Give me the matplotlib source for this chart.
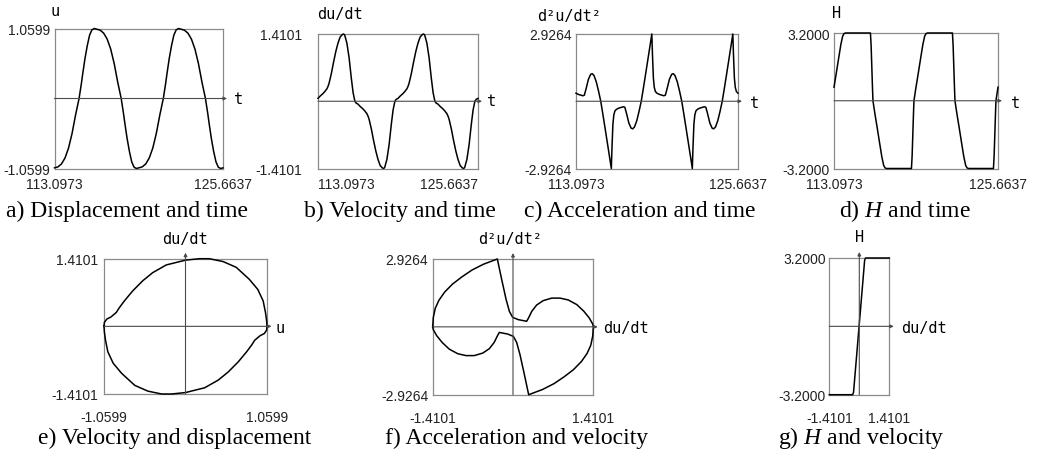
import numpy as np
import matplotlib
matplotlib.use('Agg')
import matplotlib.pyplot as plt

plt.rcParams['mathtext.fontset'] = 'custom'
plt.rcParams['mathtext.it'] = 'Liberation Serif:italic'
plt.rcParams['mathtext.rm'] = 'Liberation Serif'

# ---- data ----
t_start = 113.0973
t_end = 125.6637

# one period of each signal, phase in degrees from t_start (period = 2*pi)
phase_u = [0, 15, 30, 45, 60, 75, 90, 105, 115, 120, 130, 140, 150, 160, 170,
           180, 195, 210, 225, 240, 255, 270, 285, 295, 300, 310, 320, 330, 340, 350]
disp = [-1.05, -1.035, -0.99, -0.90, -0.75, -0.53, -0.25, 0.0, 0.23, 0.36, 0.60, 0.80, 0.96, 1.04, 1.0599,
        1.05, 1.035, 0.99, 0.90, 0.75, 0.53, 0.25, 0.0, -0.23, -0.36, -0.60, -0.80, -0.96, -1.04, -1.0599]

phase_v = [0, 10, 20, 30, 40, 45, 50, 60, 70, 80, 90, 100, 110, 115, 120, 130, 140, 150, 158, 166, 172,
           180, 190, 200, 210, 220, 225, 230, 240, 250, 260, 270, 280, 290, 295, 300, 310, 320, 330, 338, 346, 352]
vel = [0.06, 0.11, 0.15, 0.20, 0.26, 0.31, 0.38, 0.58, 0.82, 1.04, 1.22, 1.35, 1.40, 1.4101, 1.39, 1.22, 0.91, 0.48, 0.18, 0.0, -0.04,
       -0.06, -0.11, -0.15, -0.20, -0.26, -0.31, -0.38, -0.58, -0.82, -1.04, -1.22, -1.35, -1.40, -1.4101, -1.39, -1.22, -0.91, -0.48, -0.18, 0.0, 0.04]

phase_a = [0, 10, 20, 30, 37, 45, 55, 65, 72, 80, 90, 100, 110, 120, 130, 140, 150, 157, 160, 164, 168, 173,
           180, 190, 200, 210, 217, 225, 235, 245, 252, 260, 270, 280, 290, 300, 310, 320, 330, 337, 340, 344, 348, 353]
acc = [0.35, 0.30, 0.27, 0.24, 0.26, 0.55, 0.95, 1.17, 1.20, 1.12, 0.85, 0.45, 0.0, -0.60, -1.22, -1.85, -2.48, -2.9264, -2.0, -1.0, -0.6, -0.42,
       -0.35, -0.30, -0.27, -0.24, -0.26, -0.55, -0.95, -1.17, -1.20, -1.12, -0.85, -0.45, 0.0, 0.60, 1.22, 1.85, 2.48, 2.9264, 2.0, 1.0, 0.6, 0.42]

phase_h = [0, 10, 20, 30, 38, 44, 50, 160, 163, 166, 169, 171,
           180, 190, 200, 210, 218, 224, 230, 340, 343, 346, 349, 351]
hfield = [0.64, 1.30, 1.98, 2.65, 3.05, 3.17, 3.2, 3.2, 2.6, 1.6, 0.6, 0.0,
          -0.64, -1.30, -1.98, -2.65, -3.05, -3.17, -3.2, -3.2, -2.6, -1.6, -0.6, 0.0]

# phase portraits
disp_e = [-1.0599, -1.055, -1.025, -0.97, -0.90, -0.86, -0.795, -0.686, -0.556, -0.426, -0.25, 0.0, 0.18, 0.31,
          0.49, 0.66, 0.83, 0.94, 1.01, 1.04, 1.055, 1.0599,
          1.055, 1.025, 0.97, 0.90, 0.86, 0.795, 0.686, 0.556, 0.426, 0.25, 0.0, -0.18, -0.31,
          -0.49, -0.66, -0.83, -0.94, -1.01, -1.04, -1.055, -1.0599]
vel_e = [0.0, 0.08, 0.15, 0.195, 0.29, 0.39, 0.53, 0.74, 0.95, 1.12, 1.28, 1.38, 1.41, 1.41,
         1.35, 1.23, 0.98, 0.77, 0.53, 0.29, 0.12, 0.0,
         -0.08, -0.15, -0.195, -0.29, -0.39, -0.53, -0.74, -0.95, -1.12, -1.28, -1.38, -1.41, -1.41,
         -1.35, -1.23, -0.98, -0.77, -0.53, -0.29, -0.12, 0.0]

vel_f = [-1.4101, -1.40, -1.365, -1.30, -1.20, -1.06, -0.90, -0.72, -0.52, -0.275, -0.20, -0.123, -0.064, -0.006,
         0.094, 0.24, 0.27, 0.33, 0.415, 0.53, 0.68, 0.825, 0.97, 1.12, 1.245, 1.34, 1.40, 1.4101,
         1.40, 1.365, 1.30, 1.20, 1.06, 0.90, 0.72, 0.52, 0.275, 0.20, 0.123, 0.064, 0.006,
         -0.094, -0.24, -0.27, -0.33, -0.415, -0.53, -0.68, -0.825, -0.97, -1.12, -1.245, -1.34, -1.40, -1.4101]
acc_f = [0.0, 0.40, 0.80, 1.15, 1.50, 1.85, 2.15, 2.45, 2.70, 2.9264, 2.06, 1.20, 0.67, 0.41,
         0.31, 0.24, 0.37, 0.67, 0.94, 1.13, 1.24, 1.24, 1.16, 0.96, 0.67, 0.38, 0.12, 0.0,
         -0.40, -0.80, -1.15, -1.50, -1.85, -2.15, -2.45, -2.70, -2.9264, -2.06, -1.20, -0.67, -0.41,
         -0.31, -0.24, -0.37, -0.67, -0.94, -1.13, -1.24, -1.24, -1.16, -0.96, -0.67, -0.38, -0.12, 0.0]

vel_g = [-1.4101, -0.31, -0.27, 0.25, 0.29, 1.4101]
h_g = [-3.2, -3.2, -3.08, 3.08, 3.2, 3.2]

# ---- figure ----
W, HGT = 1037, 456
fig = plt.figure(figsize=(W / 100, HGT / 100), dpi=100)

box_col = '#8a8a8a'
axis_col = '#4a4a4a'
lab_font = 'DejaVu Sans Mono'
cap_font = 'Liberation Serif'


def box(x0, y0, x1, y1):
    return fig.add_axes([x0 / W, 1 - y1 / HGT, (x1 - x0) / W, (y1 - y0) / HGT])


def pos(x, y):
    return x / W, 1 - y / HGT


def two_periods(phase, vals):
    ph = np.array(phase + [p + 360 for p in phase] + [720])
    vv = np.array(vals + vals + [vals[0]])
    return t_start + ph / 720 * (t_end - t_start), vv


def frame(ax, xlim, ylim, xlabels, ylabels, xpad, ypad):
    ax.set_xlim(*xlim)
    ax.set_ylim(*ylim)
    for s in ax.spines.values():
        s.set_color(box_col)
        s.set_linewidth(0.9)
    ax.set_xticks(xlim, xlabels)
    ax.set_yticks(ylim, ylabels)
    ax.tick_params(length=0, labelsize=10, labelcolor='#222222')
    ax.tick_params(axis='x', pad=xpad)
    ax.tick_params(axis='y', pad=ypad)
    for lab in ax.get_xticklabels() + ax.get_yticklabels():
        lab.set_family('Liberation Sans')


def haxis(ax, ext):
    w = ax.get_position().width * W
    ax.annotate('', xy=(1 + ext / w, 0), xytext=(0, 0),
                xycoords=('axes fraction', 'data'),
                arrowprops=dict(arrowstyle='-|>', color=axis_col, lw=0.8,
                                mutation_scale=5, shrinkA=0, shrinkB=0),
                annotation_clip=False)


def vaxis(ax, ext):
    h = ax.get_position().height * HGT
    ax.annotate('', xy=(0, 1 + ext / h), xytext=(0, 0),
                xycoords=('data', 'axes fraction'),
                arrowprops=dict(arrowstyle='-|>', color=axis_col, lw=0.8,
                                mutation_scale=5, shrinkA=0, shrinkB=0),
                annotation_clip=False)


def label(x, y, s):
    fig.text(*pos(x, y), s, family=lab_font, fontsize=11, ha='center', va='center')


def caption(x, y, s):
    fig.text(*pos(x, y), s, family=cap_font, fontsize=17, ha='center', va='center')


# top row: signals against time
top = [
    (phase_u, disp, 1.0599, (54.5, 29.5, 223, 169.5), 3, (55, 12), 'u', (239, 100),
     (127.5, 211), 'a) Displacement and time'),
    (phase_v, vel, 1.4101, (318, 35, 478, 169.5), 11.5, (340, 15), 'du/dt', (492, 102),
     (400, 211), 'b) Velocity and time'),
    (phase_a, acc, 2.9264, (576, 35, 738, 169.5), 3, (569, 16), 'd²u/dt²', (755, 103),
     (640, 211), 'c) Acceleration and time'),
    (phase_h, hfield, 3.2, (834, 34, 998, 169.5), 3, (837, 13), 'H', (1016, 103),
     (905, 211), 'd) $H$ and time'),
]

for i, (ph, vals, ymax, rect, ypad, ylab_xy, ylab, t_xy, cap_xy, cap) in enumerate(top):
    ax = box(*rect)
    t, v = two_periods(ph, vals)
    ax.plot(t, v, color='black', lw=1.1, clip_on=False, zorder=3)
    fmt = '%.4f'
    frame(ax, (t_start, t_end), (-ymax, ymax),
          [fmt % t_start, fmt % t_end], [fmt % -ymax, fmt % ymax], 5.8, ypad)
    if i == 1:
        xl = ax.get_xticklabels()
        xl[0].set_ha('left')
        xl[1].set_ha('right')
    haxis(ax, 4)
    label(*ylab_xy, ylab)
    label(*t_xy, 't')
    caption(*cap_xy, cap)

# bottom row: phase portraits
bottom = [
    (disp_e, vel_e, 1.0599, 1.4101, (104, 259.7, 267, 395), 4, (185, 240), 'du/dt', (280, 329), 'u',
     (174.5, 438), 'e) Velocity and displacement'),
    (vel_f, acc_f, 1.4101, 2.9264, (432.7, 260, 593.3, 395.7), 3.2, (510.5, 240), 'd²u/dt²', (625.8, 328), 'du/dt',
     (516.5, 438), 'f) Acceleration and velocity'),
    (vel_g, h_g, 1.4101, 3.2, (829.3, 259, 889.3, 395.7), 2.4, (859.5, 238), 'H', (923.7, 328), 'du/dt',
     (861.7, 438), 'g) $H$ and velocity'),
]

for xs, ys, xmax, ymax, rect, ypad, ylab_xy, ylab, xlab_xy, xlab, cap_xy, cap in bottom:
    ax = box(*rect)
    ax.plot(xs, ys, color='black', lw=1.1, clip_on=False, zorder=3)
    fmt = '%.4f'
    frame(ax, (-xmax, xmax), (-ymax, ymax),
          [fmt % -xmax, fmt % xmax], [fmt % -ymax, fmt % ymax], 11.8, ypad)
    haxis(ax, 4.5)
    vaxis(ax, 6)
    label(*ylab_xy, ylab)
    label(*xlab_xy, xlab)
    caption(*cap_xy, cap)

fig.savefig('out.png', dpi=100)
